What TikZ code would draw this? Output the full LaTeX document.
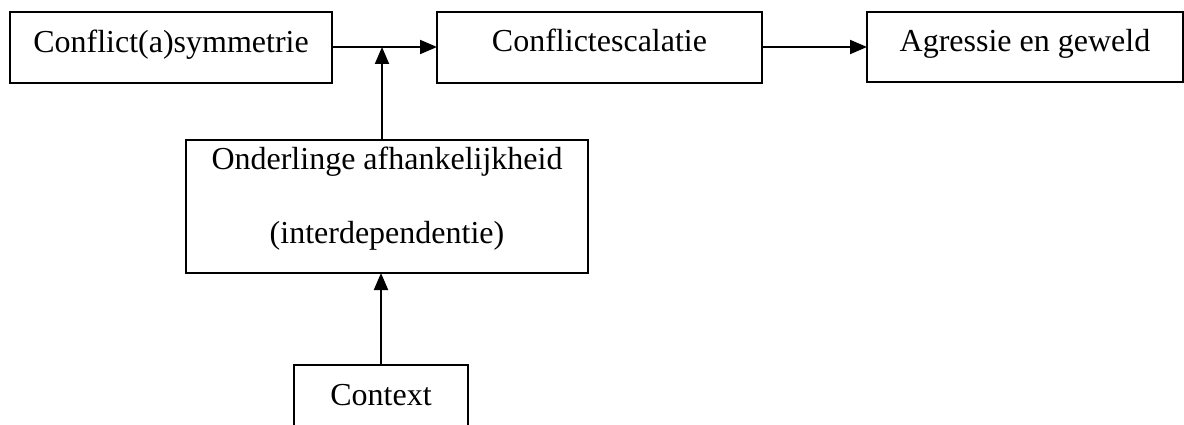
\documentclass[tikz,border=0pt]{standalone}
\usepackage{fontspec}
\setmainfont{Liberation Serif}
\usetikzlibrary{arrows.meta}
\begin{document}
\begin{tikzpicture}[x=1pt,y=-1pt,
  box/.style={draw=black,line width=1.6pt,inner sep=0pt,outer sep=0pt,rectangle},
  lbl/.style={anchor=base,inner sep=0pt,font=\fontsize{32}{38}\selectfont},
  conn/.style={line width=2pt,-{Triangle[length=17pt,width=14pt]}}]
\clip (0,0) rectangle (1184,425);
\fill[white] (0,0) rectangle (1184,425);
\node[box,minimum width=322pt,minimum height=71pt] (sym) at (171,47.5) {};
\node[box,minimum width=325pt,minimum height=71pt] (esc) at (599.5,47.5) {};
\node[box,minimum width=316pt,minimum height=70pt] (agr) at (1025,47) {};
\node[box,minimum width=402pt,minimum height=133pt] (afh) at (387,206.5) {};
\node[box,minimum width=174pt,minimum height=100pt] (ctx) at (381,415) {};
\node[lbl] (tsym) at (171,53) {Conflict(a)symmetrie};
\node[lbl] (tesc) at (599.5,52) {Conflictescalatie};
\node[lbl] (tagr) at (1025,52) {Agressie en geweld};
\node[lbl] (tafh1) at (387,170) {Onderlinge afhankelijkheid};
\node[lbl] (tafh2) at (387,243) {(interdependentie)};
\node[lbl] (tctx) at (381,405) {Context};
\coordinate (j) at (382,47);
\draw[conn] (sym.east |- j) -- (esc.west |- j);
\draw[conn] (esc.east |- j) -- (agr.west |- j);
\draw[conn] (afh.north -| j) -- (j);
\draw[conn] (ctx.north) -- (ctx.north |- afh.south);
\end{tikzpicture}
\end{document}
